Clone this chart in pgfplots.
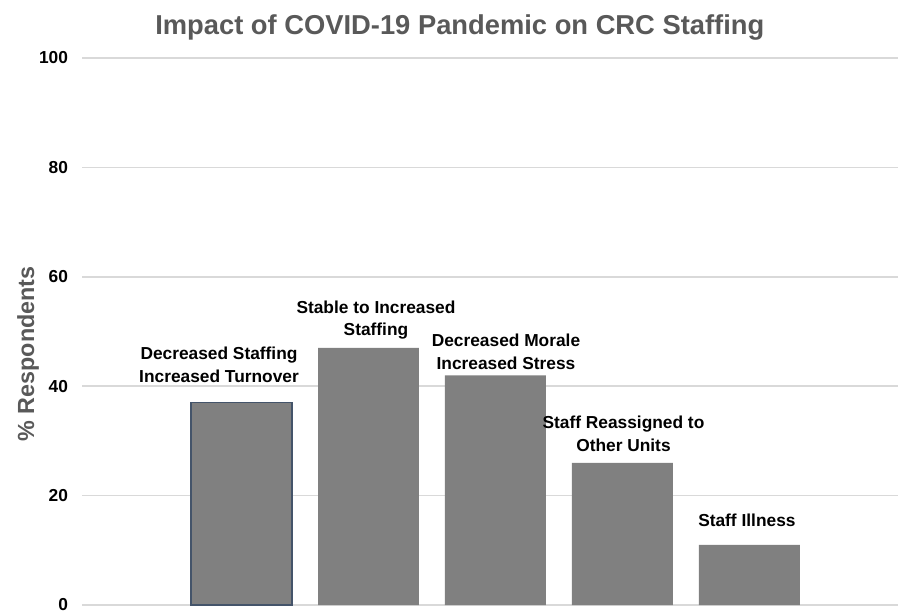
\documentclass[border=0pt]{standalone}
\usepackage{pgfplots}
\pgfplotsset{compat=1.18}
\usepackage{fontspec}
\setmainfont{Liberation Sans}
\definecolor{bargray}{HTML}{808080}
\definecolor{titlegray}{HTML}{595959}
\definecolor{gridgray}{HTML}{D9D9D9}
\definecolor{edgeblue}{HTML}{44546A}
\begin{document}
\begin{tikzpicture}
\useasboundingbox (0,0) rectangle (673.5pt,457.5pt);
\begin{axis}[
  at={(61.5pt,3.75pt)}, anchor=south west,
  width=612pt, height=410.25pt, scale only axis,
  xmin=-1.256, xmax=5.17,
  ymin=0, ymax=100,
  ytick={0,20,40,60,80,100},
  xtick=\empty,
  axis line style={draw=none},
  major tick length=0pt,
  ymajorgrids,
  grid style={gridgray, line width=1.1pt},
  /pgf/number format/assume math mode=true,
  yticklabel style={font=\fontsize{13}{15}\selectfont\bfseries, xshift=-7pt},
  title={Impact of COVID-19 Pandemic on CRC Staffing},
  title style={font=\fontsize{20.5}{24}\selectfont\bfseries, text=titlegray,
    at={(axis description cs:0.463,1.042)}, anchor=center},
  ylabel={\% Respondents},
  ylabel style={font=\fontsize{17.5}{20}\selectfont\bfseries, text=titlegray,
    at={(axis description cs:-0.066,0.459)}, anchor=center, rotate=0},
  ybar, bar width=0.795, bar shift=0pt,
  clip=false,
]
\addplot[fill=bargray, draw=edgeblue, line width=0.8pt] coordinates {(0,37)};
\addplot[fill=bargray, draw=none] coordinates {(1,47) (2,42) (3,26) (4,11)};

\begin{scope}[every node/.style={font=\fontsize{13}{16.9}\selectfont\bfseries, align=center, anchor=center}]
\node at (axis cs:-0.177,43.9) {Decreased Staffing\\Increased Turnover};
\node at (axis cs:1.059,52.1) {Stable to Increased\\Staffing};
\node at (axis cs:2.083,46.25) {Decreased Morale\\Increased Stress};
\node at (axis cs:3.008,31.26) {Staff Reassigned to\\Other Units};
\node at (axis cs:3.98,15.54) {Staff Illness};
\end{scope}
\end{axis}
\end{tikzpicture}
\end{document}
